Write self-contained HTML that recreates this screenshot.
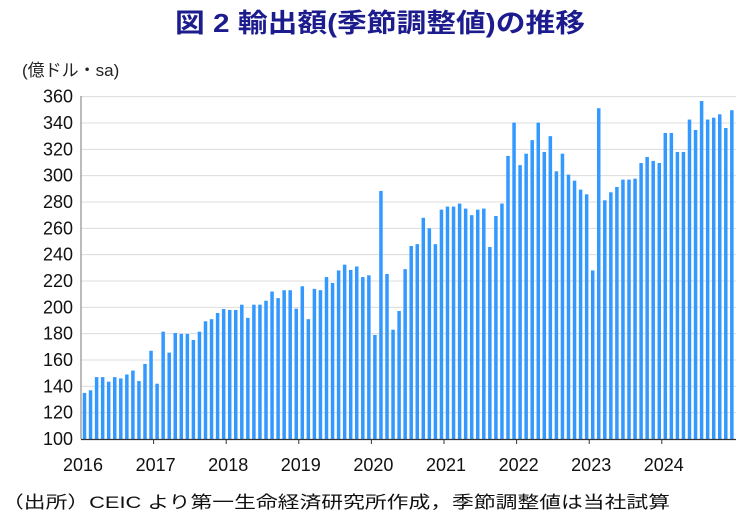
<!DOCTYPE html>
<html><head><meta charset="utf-8"><style>
html,body{margin:0;padding:0;background:#fff;}
svg{display:block;}
text{font-family:"Liberation Sans","Noto Sans CJK JP",sans-serif;}
</style></head><body>
<svg width="750" height="524" viewBox="0 0 750 524" xmlns="http://www.w3.org/2000/svg">
<text x="380" y="32" text-anchor="middle" font-size="26" font-weight="bold" fill="#1c1c8e" textLength="410" lengthAdjust="spacingAndGlyphs">図 2  輸出額(季節調整値)の推移</text>
<text x="22" y="76" font-size="17" fill="#222">(億ドル・sa)</text>
<g id="grid" stroke="#dcdcdc" stroke-width="1"></g>
<g id="bars" fill="#3399ff"></g>
<g id="axes"></g>
<text x="2" y="508" font-size="17" fill="#111" textLength="668" lengthAdjust="spacingAndGlyphs">（出所）CEIC より第一生命経済研究所作成，季節調整値は当社試算</text>
</svg>
<script>
var v=[135,137,147,147,143.5,147,146,149,152,144,157,167,
142,181.5,165.6,180.5,179.8,179.8,175.2,181.5,189.4,191,195.7,198.7,
198,198,202,192,202,202,205,212,207,213,213,199,
216,191,214,213,223,218.5,228,232.4,228.4,231,223,224.3,
179,288.4,225.3,183,197.2,229,246.6,248,268,260,248,274.2,
276.5,276.5,278.8,275,270,274.2,275,245.8,269.4,278.8,315,340.3,
308,316.7,327,340.3,318,330,303.3,316.7,300.8,296.2,289.4,285.8,
228,351.2,281.3,287.4,291.4,297,297,297.7,309.6,314.2,311.2,309.6,
332.4,332.4,318,318,342.6,334.7,356.7,342.6,344,346.6,336.2,349.7];
var ns="http://www.w3.org/2000/svg";
function el(t,a,p,txt){var e=document.createElementNS(ns,t);for(var k in a)e.setAttribute(k,a[k]);if(txt)e.textContent=txt;p.appendChild(e);return e;}
var Y=function(val){return 439-(val-100)*1.3167;};
var g=document.getElementById('grid'),b=document.getElementById('bars'),ax=document.getElementById('axes'),svg=document.querySelector('svg');
for(var t=100;t<=360;t+=20){var y=Y(t);if(t>100)el('line',{x1:81,x2:736,y1:y,y2:y},g);
el('text',{x:73,y:y+6,'text-anchor':'end','font-size':18,fill:'#111'},svg,String(t));}
for(var i=0;i<v.length;i++){var cx=84.5+6.05*i;var y=Y(v[i]);el('rect',{x:cx-1.75,y:y,width:3.5,height:439-y},b);}
el('line',{x1:81,x2:81,y1:96,y2:439,stroke:'#777','stroke-width':1},ax);
el('line',{x1:81,x2:736,y1:439.5,y2:439.5,stroke:'#333','stroke-width':1.2},ax);
for(var k=0;k<9;k++){var x=81+72.6*k;if(k>0)el('line',{x1:x,x2:x,y1:439,y2:444,stroke:'#333'},ax);
el('text',{x:x+2,y:471,'text-anchor':'middle','font-size':18,fill:'#111'},svg,String(2016+k));}
</script>
</body></html>
